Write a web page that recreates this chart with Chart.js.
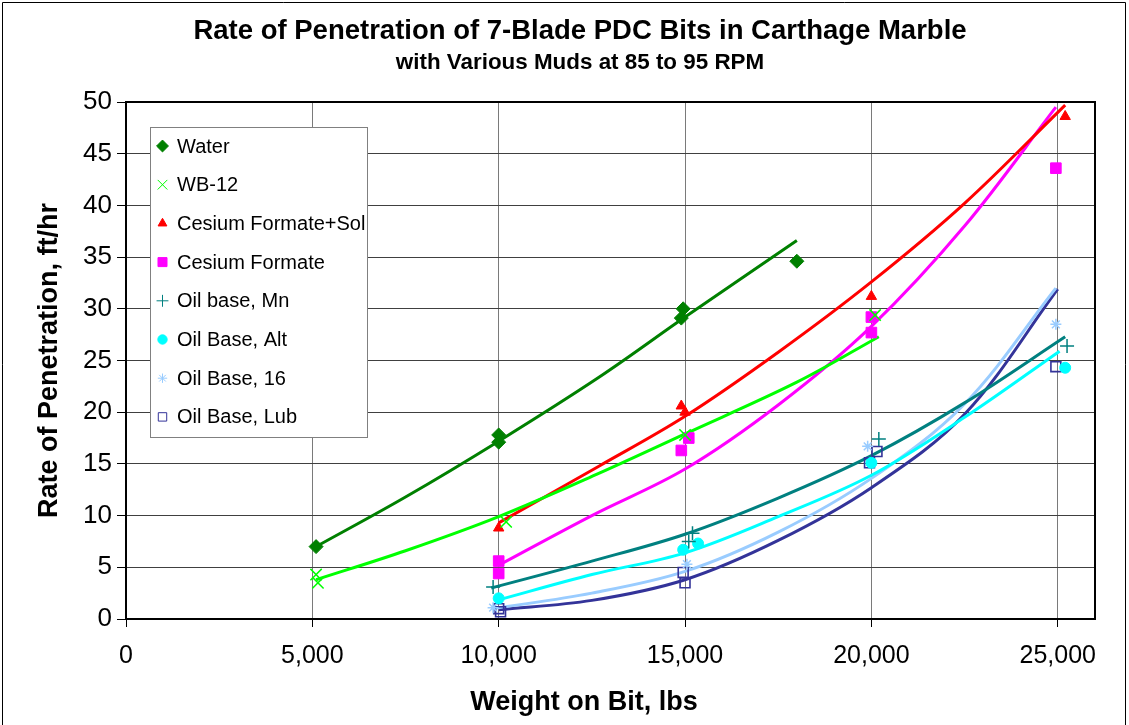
<!DOCTYPE html>
<html>
<head>
<meta charset="utf-8">
<title>Rate of Penetration of 7-Blade PDC Bits</title>
<script src="https://cdn.jsdelivr.net/npm/chart.js@4.4.1/dist/chart.umd.min.js"></script>
<style>
    html, body { margin: 0; padding: 0; background: #fff; }
    #wrap { width: 1129px; height: 725px; }
</style>
</head>
<body>
<div id="wrap"><canvas id="ropChart" width="1129" height="725"></canvas></div>
<script>
const fontFamily = "'Liberation Sans', Arial, Helvetica, sans-serif";

const chartTitle = 'Rate of Penetration of 7-Blade PDC Bits in Carthage Marble';
const chartSubtitle = 'with Various Muds at 85 to 95 RPM';
const xTitle = 'Weight on Bit, lbs';
const yTitle = 'Rate of Penetration, ft/hr';

// x axis tick positions (weight on bit, lbs)
const xTicks = [0, 5000, 10000, 15000, 20000, 25000];

// measured points [WOB lbs, ROP ft/hr] and the fitted trend curves
const waterPts = [[5100, 7.0], [10000, 17.8], [10000, 17.1], [14950, 30.0], [14900, 29.1], [18000, 34.6]];
const waterFit = [[5100, 7.0], [7500, 11.8], [10000, 17.2], [12700, 23.4], [15000, 29.2], [18000, 36.6]];

const wb12Pts = [[5100, 4.3], [5150, 3.5], [10200, 9.4], [15000, 17.8], [20100, 29.4]];
const wb12Fit = [[5100, 3.8], [7500, 6.6], [10000, 9.9], [12700, 14.1], [15000, 17.9], [18000, 22.9], [20200, 27.3]];

const csSolPts = [[10000, 8.8], [14900, 20.6], [15000, 20.0], [20000, 31.2], [25200, 48.6]];
const csSolFit = [[10000, 9.3], [12700, 14.8], [15000, 19.6], [17500, 25.8], [20000, 32.6], [22500, 40.2], [25200, 49.7]];

const csPts = [[10000, 5.6], [10000, 4.4], [14900, 16.3], [15100, 17.5], [20000, 29.2], [20000, 27.7], [24950, 43.6]];
const csFit = [[10000, 5.2], [12500, 10.0], [15000, 14.5], [17500, 20.7], [20000, 28.3], [22500, 38.0], [24950, 49.5]];

const mnPts = [[9850, 3.1], [15200, 8.3], [15100, 7.5], [20200, 17.4], [25250, 26.4]];
const mnFit = [[9800, 3.0], [12500, 5.6], [15000, 8.2], [17500, 11.7], [20000, 15.8], [22500, 20.9], [25200, 27.3]];

const altPts = [[10000, 2.0], [14950, 6.7], [15350, 7.3], [20000, 15.1], [25200, 24.3]];
const altFit = [[9950, 1.8], [12500, 4.3], [15000, 6.4], [17500, 9.9], [20000, 13.9], [22500, 19.5], [25050, 25.9]];

const o16Pts = [[9850, 1.1], [15050, 5.3], [19900, 16.7], [24950, 28.5]];
const o16Fit = [[9850, 1.0], [12500, 2.5], [15000, 4.6], [17500, 8.4], [20000, 13.6], [22500, 20.8], [24950, 32.0]];

const lubPts = [[10000, 1.0], [10050, 0.7], [14950, 4.5], [15000, 3.5], [20150, 16.2], [19950, 15.1], [24950, 24.4]];
const lubFit = [[10000, 0.9], [12500, 1.8], [15000, 3.8], [17500, 7.6], [20000, 12.7], [22500, 19.8], [25000, 31.9]];

const seriesNames = ['Water', 'WB-12', 'Cesium Formate+Sol', 'Cesium Formate',
    'Oil base, Mn', 'Oil Base, Alt', 'Oil Base, 16', 'Oil Base, Lub'];
const seriesPts = [waterPts, wb12Pts, csSolPts, csPts, mnPts, altPts, o16Pts, lubPts];
const seriesFit = [waterFit, wb12Fit, csSolFit, csFit, mnFit, altFit, o16Fit, lubFit];

// marker + line look per mud
const seriesStyle = [
    { color: '#008000', marker: 'rectRot', radius: 7, fill: true, bw: 1 },
    { color: '#00ff00', marker: 'crossRot', radius: 8, fill: false, bw: 1.5 },
    { color: '#ff0000', marker: 'triangle', radius: 6, fill: true, bw: 1 },
    { color: '#ff00ff', marker: 'rect', radius: 7.5, fill: true, bw: 1 },
    { color: '#008080', marker: 'cross', radius: 7, fill: false, bw: 1.5 },
    { color: '#00ffff', marker: 'circle', radius: 5.5, fill: true, bw: 1 },
    { color: '#99ccff', marker: 'star', radius: 5.5, fill: false, bw: 1.5 },
    { color: '#333399', marker: 'rect', radius: 7, fill: false, bw: 1.6 }
];

const toXY = arr => arr.map(([x, y]) => ({ x, y }));

const datasets = [];
seriesNames.forEach((name, i) => {
    const s = seriesStyle[i];
    datasets.push({
        label: name,
        data: toXY(seriesPts[i]),
        showLine: false,
        pointStyle: s.marker,
        pointRadius: s.radius,
        pointBorderWidth: s.bw,
        pointBorderColor: s.color,
        pointBackgroundColor: s.fill ? s.color : 'rgba(0,0,0,0)',
        order: 1
    });
    datasets.push({
        label: name + ' trend',
        data: toXY(seriesFit[i]),
        showLine: true,
        borderColor: s.color,
        borderWidth: 3,
        pointRadius: 0,
        tension: 0.35,
        order: 2
    });
});

// plot frame + thin outer border
const framePlugin = {
    id: 'frame',
    beforeDatasetsDraw(chart) {
        const { ctx, chartArea: a } = chart;
        ctx.save();
        ctx.strokeStyle = '#000';
        ctx.lineWidth = 2;
        ctx.strokeRect(a.left, a.top, a.right - a.left, a.bottom - a.top);
        ctx.restore();
    },
    afterDraw(chart) {
        const ctx = chart.ctx;
        ctx.save();
        ctx.strokeStyle = '#000';
        ctx.lineWidth = 1;
        ctx.beginPath();
        ctx.moveTo(2.5, chart.height + 5);
        ctx.lineTo(2.5, 2.5);
        ctx.lineTo(chart.width - 3.5, 2.5);
        ctx.lineTo(chart.width - 3.5, chart.height + 5);
        ctx.stroke();
        ctx.restore();
    }
};

// title block and x axis caption, centred on the page rather than the plot
const headingsPlugin = {
    id: 'headings',
    afterDraw(chart) {
        const ctx = chart.ctx;
        const cx = 580;
        ctx.save();
        ctx.fillStyle = '#000';
        ctx.textAlign = 'center';
        ctx.textBaseline = 'middle';
        ctx.font = 'bold 27.5px ' + fontFamily;
        ctx.fillText(chartTitle, cx, 31);
        ctx.font = 'bold 22.4px ' + fontFamily;
        ctx.fillText(chartSubtitle, cx, 63);
        ctx.font = 'bold 27px ' + fontFamily;
        ctx.fillText(xTitle, 584, 703);
        ctx.restore();
    }
};

// boxed legend sitting inside the plot, top-left
const legendBoxPlugin = {
    id: 'legendBox',
    afterDraw(chart) {
        const { ctx, chartArea: a } = chart;
        const left = a.left + 24, top = a.top + 25;
        const w = 217, h = 310, rowH = 38.7;
        ctx.save();
        ctx.fillStyle = '#fff';
        ctx.fillRect(left, top, w, h);
        ctx.strokeStyle = '#808080';
        ctx.lineWidth = 1;
        ctx.strokeRect(left + 0.5, top + 0.5, w, h);
        ctx.font = '20px ' + fontFamily;
        ctx.textBaseline = 'middle';
        seriesNames.forEach((name, i) => {
            const s = seriesStyle[i];
            const cy = top + 19 + i * rowH;
            ctx.fillStyle = s.fill ? s.color : 'rgba(0,0,0,0)';
            ctx.strokeStyle = s.color;
            Chart.helpers.drawPoint(ctx, {
                pointStyle: s.marker,
                radius: s.radius * 0.85,
                borderWidth: s.bw,
                rotation: 0
            }, left + 12.5, cy);
            ctx.fillStyle = '#000';
            ctx.fillText(name, left + 27, cy + 1);
        });
        ctx.restore();
    }
};

new Chart(document.getElementById('ropChart'), {
    type: 'scatter',
    data: { datasets },
    options: {
        responsive: false,
        animation: false,
        layout: { padding: { left: 0, right: 34, top: 102, bottom: 0 } },
        plugins: {
            legend: { display: false },
            tooltip: { enabled: false }
        },
        scales: {
            x: {
                type: 'linear',
                min: 0,
                max: 26000,
                afterBuildTicks: scale => { scale.ticks = xTicks.map(v => ({ value: v })); },
                afterFit: scale => { scale.height = 106; },
                grid: { color: '#7a7a7a', lineWidth: 1, tickLength: 8, tickColor: '#000' },
                border: { display: true, color: '#000', width: 2 },
                ticks: {
                    color: '#000',
                    padding: 14,
                    maxRotation: 0,
                    font: { family: fontFamily, size: 25 },
                    callback: v => v.toLocaleString('en-US')
                }
            },
            y: {
                type: 'linear',
                min: 0,
                max: 50,
                afterFit: scale => { scale.width = 126; },
                grid: { color: '#404040', lineWidth: 1, tickLength: 9, tickColor: '#000' },
                border: { display: true, color: '#000', width: 2 },
                ticks: {
                    stepSize: 5,
                    color: '#000',
                    padding: 5,
                    font: { family: fontFamily, size: 26 }
                },
                title: {
                    display: true,
                    text: yTitle,
                    color: '#000',
                    font: { family: fontFamily, size: 27, weight: 'bold', lineHeight: 1.2 },
                    padding: { top: 33, bottom: 0 }
                }
            }
        }
    },
    plugins: [framePlugin, headingsPlugin, legendBoxPlugin]
});
</script>
</body>
</html>
